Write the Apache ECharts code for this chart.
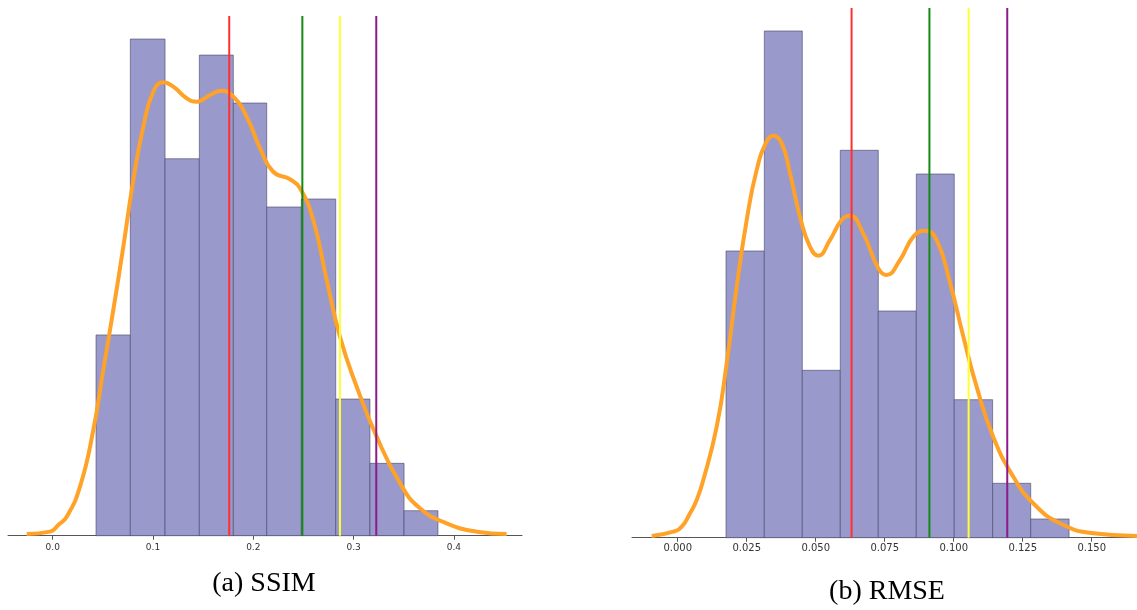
<!DOCTYPE html>
<html>
<head>
<meta charset="utf-8">
<script src="https://cdn.jsdelivr.net/npm/echarts@6/dist/echarts.min.js"></script>
<style>
html,body{margin:0;padding:0;background:#fff;}
#chart{width:1137px;height:610px;}
</style>
</head>
<body>
<div id="chart"></div>
<script>
// ---- SSIM panel ----
const ssimBinEdges = [0.0432, 0.0774, 0.1120, 0.1462, 0.1801, 0.2134, 0.2479, 0.2822, 0.3163, 0.3503, 0.3841];
const ssimDensity = [2.039, 5.045, 3.829, 4.882, 4.395, 3.339, 3.420, 1.388, 0.735, 0.254];
const ssimKdeX = [-0.0259, -0.0027, 0.0056, 0.0140, 0.0272, 0.0405, 0.0504, 0.0604, 0.0704, 0.0804, 0.0903, 0.1003, 0.1103, 0.1202, 0.1336, 0.1436, 0.1568, 0.1685, 0.1801, 0.1934, 0.2067, 0.2199, 0.2366, 0.2466, 0.2598, 0.2732, 0.2864, 0.3031, 0.3230, 0.3463, 0.3662, 0.3928, 0.4227, 0.4526];
const ssimKdeY = [0.017, 0.041, 0.109, 0.193, 0.498, 1.074, 1.683, 2.292, 2.935, 3.613, 4.154, 4.510, 4.605, 4.561, 4.443, 4.408, 4.476, 4.520, 4.459, 4.256, 3.938, 3.697, 3.620, 3.529, 3.207, 2.597, 2.021, 1.513, 1.006, 0.532, 0.278, 0.126, 0.041, 0.017];
const ssimMarkers = [0.1760, 0.2489, 0.2864, 0.3226];
const ssimTicks = [0.0, 0.1, 0.2, 0.3, 0.4];
const ssimTickLabels = ['0.0', '0.1', '0.2', '0.3', '0.4'];

// ---- RMSE panel ----
const rmseBinEdges = [0.0175, 0.03138, 0.04514, 0.05891, 0.07268, 0.08645, 0.1002, 0.1141, 0.1279, 0.1418];
const rmseDensity = [9.656, 17.066, 5.638, 13.048, 7.635, 12.249, 4.648, 1.832, 0.630];
const rmseKdeX = [-0.00942, -0.0016, 0.00145, 0.00446, 0.00688, 0.00928, 0.01413, 0.01775, 0.02138, 0.0250, 0.0286, 0.0322, 0.0346, 0.0377, 0.0407, 0.0443, 0.0479, 0.0509, 0.0552, 0.0594, 0.0624, 0.0672, 0.0727, 0.0757, 0.0805, 0.0854, 0.0896, 0.0938, 0.0987, 0.1035, 0.1083, 0.1143, 0.1216, 0.1288, 0.1385, 0.1506, 0.1664];
const rmseKdeY = [0.057, 0.202, 0.370, 0.822, 1.270, 1.943, 3.738, 5.874, 8.454, 10.70, 12.38, 13.34, 13.54, 13.28, 12.27, 10.81, 9.80, 9.50, 10.03, 10.70, 10.84, 10.25, 9.07, 8.85, 9.35, 10.14, 10.34, 10.03, 8.57, 6.77, 5.09, 3.40, 2.05, 1.16, 0.485, 0.148, 0.057];
const rmseMarkers = [0.0630, 0.0912, 0.1054, 0.1194];
const rmseTicks = [0.000, 0.025, 0.050, 0.075, 0.100, 0.125, 0.150];
const rmseTickLabels = ['0.000', '0.025', '0.050', '0.075', '0.100', '0.125', '0.150'];

const ssimYMax = 5.279;
const rmseYMax = 17.84;
const markerColors = ['#ff3030', '#138a13', '#ffff33', '#8b1a8b'];
const captions = ['(a) SSIM', '(b) RMSE'];

function histData(edges, dens) {
  return dens.map((d, i) => [edges[i], edges[i + 1], d]);
}
function pairs(xs, ys) { return xs.map((x, i) => [x, ys[i]]); }

function renderHist(params, api) {
  const x0 = api.value(0), x1 = api.value(1), h = api.value(2);
  const p0 = api.coord([x0, h]);
  const p1 = api.coord([x1, 0]);
  return {
    type: 'rect',
    shape: { x: p0[0], y: p0[1], width: p1[0] - p0[0], height: p1[1] - p0[1] },
    style: { fill: '#9999cc', stroke: 'rgba(70,70,105,0.6)', lineWidth: 1 }
  };
}

function xAxisCfg(idx, min, max, ticks, labels, fs, margin) {
  return {
    type: 'value', gridIndex: idx, min: min, max: max,
    splitLine: { show: false },
    axisLine: { show: true, lineStyle: { color: '#555', width: 1 } },
    axisTick: { show: true, length: 4, lineStyle: { color: '#555' }, customValues: ticks },
    axisLabel: {
      show: true, customValues: ticks, margin: margin,
      fontFamily: 'DejaVu Sans', fontSize: fs, color: '#333',
      formatter: function (v) {
        let best = 0, bd = Infinity;
        ticks.forEach((t, i) => { const d = Math.abs(t - v); if (d < bd) { bd = d; best = i; } });
        return labels[best];
      }
    }
  };
}
function yAxisCfg(idx, max) {
  return { type: 'value', gridIndex: idx, min: 0, max: max, show: false, splitLine: { show: false } };
}
function markerSeries(idx, vals, yMax) {
  return vals.map((v, i) => ({
    type: 'line', xAxisIndex: idx, yAxisIndex: idx, z: 5,
    data: [[v, 0], [v, yMax]],
    showSymbol: false, symbol: 'none', silent: true,
    lineStyle: { color: markerColors[i], width: 2 }
  }));
}

const chart = echarts.init(document.getElementById('chart'), null, { renderer: 'canvas' });
chart.setOption({
  animation: false,
  backgroundColor: '#ffffff',
  grid: [
    { left: 8, width: 514, top: 16, bottom: 74.3 },
    { left: 632, right: 0, top: 8, bottom: 72.3 }
  ],
  xAxis: [
    xAxisCfg(0, -0.04457, 0.4679, ssimTicks, ssimTickLabels, 9, 7),
    xAxisCfg(1, -0.01656, 0.16641, rmseTicks, rmseTickLabels, 10, 6)
  ],
  yAxis: [yAxisCfg(0, ssimYMax), yAxisCfg(1, rmseYMax)],
  series: [
    { type: 'custom', xAxisIndex: 0, yAxisIndex: 0, renderItem: renderHist, encode: { x: [0, 1], y: 2 }, data: histData(ssimBinEdges, ssimDensity), z: 1 },
    { type: 'line', xAxisIndex: 0, yAxisIndex: 0, data: pairs(ssimKdeX, ssimKdeY), smooth: 0.5, showSymbol: false, lineStyle: { color: '#ffa228', width: 4 }, z: 3 },
    ...markerSeries(0, ssimMarkers, ssimYMax),
    { type: 'custom', xAxisIndex: 1, yAxisIndex: 1, renderItem: renderHist, encode: { x: [0, 1], y: 2 }, data: histData(rmseBinEdges, rmseDensity), z: 1 },
    { type: 'line', xAxisIndex: 1, yAxisIndex: 1, data: pairs(rmseKdeX, rmseKdeY), smooth: 0.5, showSymbol: false, lineStyle: { color: '#ffa228', width: 4 }, z: 3 },
    ...markerSeries(1, rmseMarkers, rmseYMax)
  ],
  graphic: [
    { type: 'text', style: { text: captions[0], x: 264, y: 584, font: '28px "Liberation Serif"', fill: '#000', textAlign: 'center', textVerticalAlign: 'middle' } },
    { type: 'text', style: { text: captions[1], x: 887, y: 592, font: '28px "Liberation Serif"', fill: '#000', textAlign: 'center', textVerticalAlign: 'middle' } }
  ]
});
</script>
</body>
</html>
